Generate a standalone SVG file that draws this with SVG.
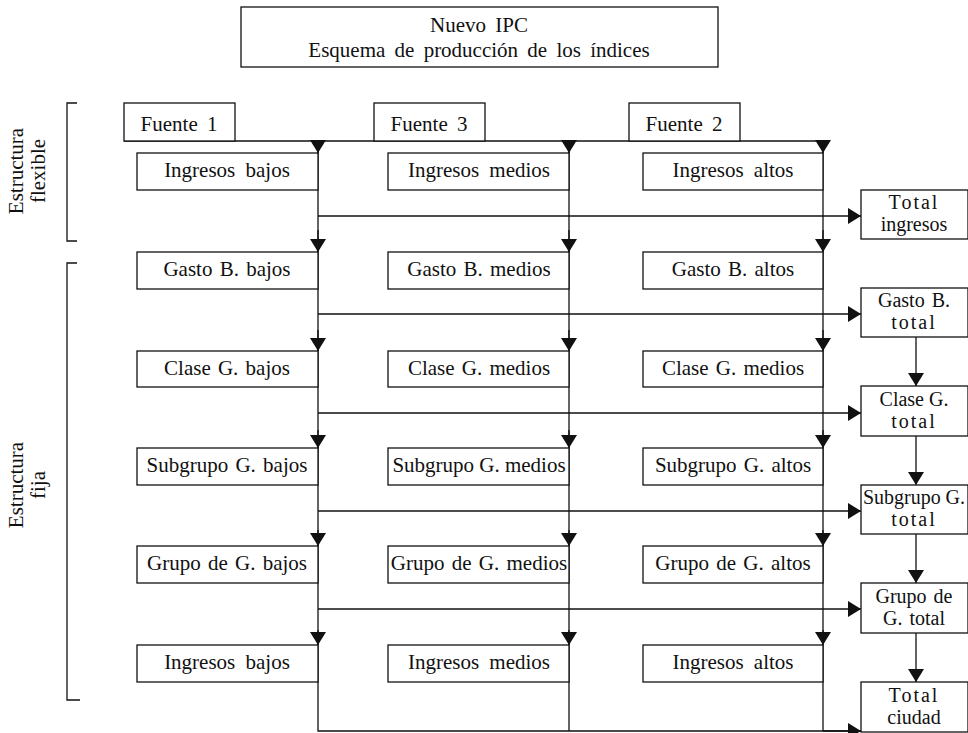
<svg xmlns="http://www.w3.org/2000/svg" width="968" height="733" viewBox="0 0 968 733">
<defs>
<style>
.bx{fill:#fff;stroke:#111;stroke-width:1.3}
.ln{fill:none;stroke:#111;stroke-width:1.3}
.t{font-size:21px;fill:#111;text-anchor:middle;word-spacing:2px}
.r{font-size:21px;fill:#111;text-anchor:middle}
.s{font-size:20px;fill:#111;text-anchor:middle;word-spacing:2px}
</style>
<marker id="ah" markerUnits="userSpaceOnUse" markerWidth="14" markerHeight="16" refX="13" refY="8" orient="auto" viewBox="0 0 14 16">
<path d="M0,0 L13,8 L0,16 Z" fill="#111"/>
</marker>
</defs>
<rect width="968" height="733" fill="#fff"/>

<g id="title" font-family="Liberation Serif">
<rect class="bx" x="241" y="7" width="477" height="60"/>
<text class="t" x="479" y="32" font-family="Liberation Serif" style="word-spacing:4px">Nuevo IPC</text>
<text class="t" x="479" y="57" font-family="Liberation Serif" style="word-spacing:4px">Esquema de producción de los índices</text>
</g>

<g id="labels">
<path class="ln" d="M77,103 H67 V241 H77"/>
<path class="ln" d="M77,263 H67 V700 H80"/>
<text class="r" font-family="Liberation Serif" transform="translate(23,171) rotate(-90)">Estructura</text>
<text class="r" font-family="Liberation Serif" transform="translate(45,171) rotate(-90)">flexible</text>
<text class="r" font-family="Liberation Serif" transform="translate(23,485) rotate(-90)">Estructura</text>
<text class="r" font-family="Liberation Serif" transform="translate(45,485) rotate(-90)">fija</text>
</g>

<g id="connectors">
<path class="ln" d="M124,141 H823"/>
<path class="ln" d="M318,141 V731 H861"/>
<path class="ln" d="M569,141 V731"/>
<path class="ln" d="M823,141 V731"/>
<g class="ln" marker-end="url(#ah)">
<path d="M318,141 V153"/><path d="M569,141 V153"/><path d="M823,141 V153"/>
<path d="M318,230 V252"/><path d="M569,230 V252"/><path d="M823,230 V252"/>
<path d="M318,330 V351"/><path d="M569,330 V351"/><path d="M823,330 V351"/>
<path d="M318,430 V448"/><path d="M569,430 V448"/><path d="M823,430 V448"/>
<path d="M318,530 V546"/><path d="M569,530 V546"/><path d="M823,530 V546"/>
<path d="M318,630 V645"/><path d="M569,630 V645"/><path d="M823,630 V645"/>
<path d="M318,216 H861"/>
<path d="M318,314 H861"/>
<path d="M318,413 H861"/>
<path d="M318,511 H861"/>
<path d="M318,609 H861"/>
<path d="M823,731 H861"/>
<path d="M916,337 V386"/>
<path d="M916,436 V485"/>
<path d="M916,534 V583"/>
<path d="M916,633 V682"/>
</g>
</g>

<g id="fuente1"><rect class="bx" x="124" y="103" width="111" height="38"/><text class="t" font-family="Liberation Serif" x="179" y="131" style="word-spacing:4px">Fuente 1</text></g>
<g id="fuente3"><rect class="bx" x="374" y="103" width="111" height="38"/><text class="t" font-family="Liberation Serif" x="429" y="131" style="word-spacing:4px">Fuente 3</text></g>
<g id="fuente2"><rect class="bx" x="629" y="103" width="111" height="38"/><text class="t" font-family="Liberation Serif" x="684" y="131" style="word-spacing:4px">Fuente 2</text></g>

<g id="ing-bajos"><rect class="bx" x="137" y="153" width="181" height="37"/><text class="t" font-family="Liberation Serif" x="227" y="177" style="word-spacing:5px">Ingresos bajos</text></g>
<g id="ing-medios"><rect class="bx" x="388" y="153" width="181" height="37"/><text class="t" font-family="Liberation Serif" x="479" y="177" style="word-spacing:5px">Ingresos medios</text></g>
<g id="ing-altos"><rect class="bx" x="643" y="153" width="180" height="37"/><text class="t" font-family="Liberation Serif" x="733" y="177" style="word-spacing:5px">Ingresos altos</text></g>

<g id="gasto-bajos"><rect class="bx" x="137" y="252" width="181" height="37"/><text class="t" font-family="Liberation Serif" x="227" y="276">Gasto B. bajos</text></g>
<g id="gasto-medios"><rect class="bx" x="388" y="252" width="181" height="37"/><text class="t" font-family="Liberation Serif" x="479" y="276">Gasto B. medios</text></g>
<g id="gasto-altos"><rect class="bx" x="643" y="252" width="180" height="37"/><text class="t" font-family="Liberation Serif" x="733" y="276">Gasto B. altos</text></g>

<g id="clase-bajos"><rect class="bx" x="137" y="351" width="181" height="36"/><text class="t" font-family="Liberation Serif" x="227" y="375">Clase G. bajos</text></g>
<g id="clase-medios"><rect class="bx" x="388" y="351" width="181" height="36"/><text class="t" font-family="Liberation Serif" x="479" y="375">Clase G. medios</text></g>
<g id="clase-altos"><rect class="bx" x="643" y="351" width="180" height="36"/><text class="t" font-family="Liberation Serif" x="733" y="375">Clase G. medios</text></g>

<g id="sub-bajos"><rect class="bx" x="137" y="448" width="181" height="37"/><text class="t" font-family="Liberation Serif" x="227" y="472">Subgrupo G. bajos</text></g>
<g id="sub-medios"><rect class="bx" x="388" y="448" width="181" height="37"/><text class="t" font-family="Liberation Serif" x="479" y="472" style="word-spacing:0">Subgrupo G. medios</text></g>
<g id="sub-altos"><rect class="bx" x="643" y="448" width="180" height="37"/><text class="t" font-family="Liberation Serif" x="733" y="472">Subgrupo G. altos</text></g>

<g id="grupo-bajos"><rect class="bx" x="137" y="546" width="181" height="37"/><text class="t" font-family="Liberation Serif" x="227" y="570">Grupo de G. bajos</text></g>
<g id="grupo-medios"><rect class="bx" x="388" y="546" width="181" height="37"/><text class="t" font-family="Liberation Serif" x="479" y="570">Grupo de G. medios</text></g>
<g id="grupo-altos"><rect class="bx" x="643" y="546" width="180" height="37"/><text class="t" font-family="Liberation Serif" x="733" y="570">Grupo de G. altos</text></g>

<g id="ing2-bajos"><rect class="bx" x="137" y="645" width="181" height="37"/><text class="t" font-family="Liberation Serif" x="227" y="669" style="word-spacing:5px">Ingresos bajos</text></g>
<g id="ing2-medios"><rect class="bx" x="388" y="645" width="181" height="37"/><text class="t" font-family="Liberation Serif" x="479" y="669" style="word-spacing:5px">Ingresos medios</text></g>
<g id="ing2-altos"><rect class="bx" x="643" y="645" width="180" height="37"/><text class="t" font-family="Liberation Serif" x="733" y="669" style="word-spacing:5px">Ingresos altos</text></g>

<g id="total-ingresos"><rect class="bx" x="861" y="190" width="107" height="49"/><text class="s" font-family="Liberation Serif" x="914" y="209" letter-spacing="2">Total</text><text class="s" font-family="Liberation Serif" x="914" y="231">ingresos</text></g>
<g id="gasto-total"><rect class="bx" x="861" y="288" width="107" height="49"/><text class="s" font-family="Liberation Serif" x="914" y="307">Gasto B.</text><text class="s" font-family="Liberation Serif" x="914" y="329" letter-spacing="2">total</text></g>
<g id="clase-total"><rect class="bx" x="861" y="386" width="107" height="50"/><text class="s" font-family="Liberation Serif" x="914" y="406" style="word-spacing:0">Clase G.</text><text class="s" font-family="Liberation Serif" x="914" y="428" letter-spacing="2">total</text></g>
<g id="sub-total"><rect class="bx" x="861" y="485" width="107" height="49"/><text class="s" font-family="Liberation Serif" x="914" y="504" textLength="102" lengthAdjust="spacingAndGlyphs" style="word-spacing:0">Subgrupo G.</text><text class="s" font-family="Liberation Serif" x="914" y="526" letter-spacing="2">total</text></g>
<g id="grupo-total"><rect class="bx" x="861" y="583" width="107" height="50"/><text class="s" font-family="Liberation Serif" x="914" y="603">Grupo de</text><text class="s" font-family="Liberation Serif" x="914" y="625">G. total</text></g>
<g id="total-ciudad"><rect class="bx" x="861" y="682" width="107" height="50"/><text class="s" font-family="Liberation Serif" x="914" y="702" letter-spacing="2">Total</text><text class="s" font-family="Liberation Serif" x="914" y="724">ciudad</text></g>
</svg>
